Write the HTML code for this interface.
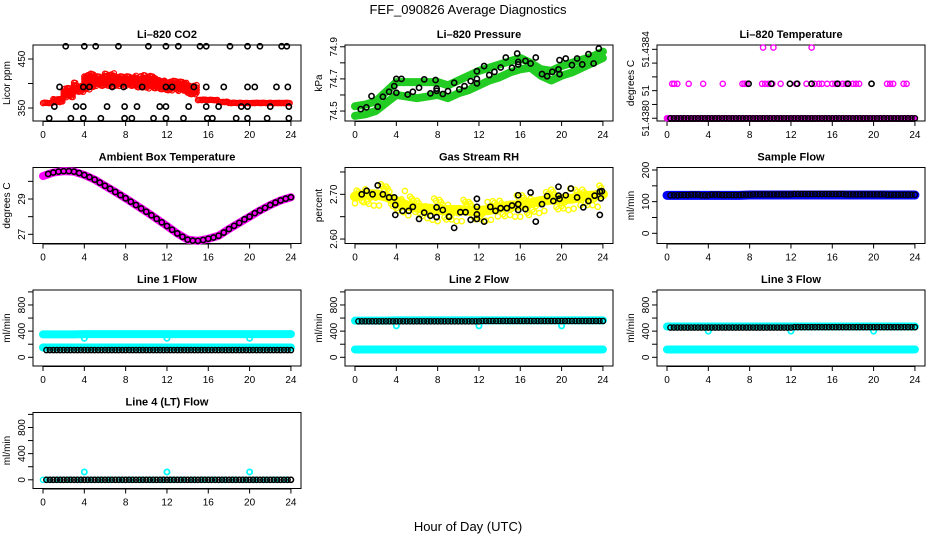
<!DOCTYPE html>
<html><head><meta charset="utf-8"><style>
html,body{margin:0;padding:0;background:#fff;}
svg{display:block;font-family:"Liberation Sans",Arial,sans-serif;}
</style></head><body>
<svg id="chart" width="936" height="540" viewBox="0 0 936 540" xmlns="http://www.w3.org/2000/svg">
<rect width="936" height="540" fill="#fff"/>
<text x="468" y="14" text-anchor="middle" font-size="13">FEF_090826  Average Diagnostics</text>
<text x="468" y="531" text-anchor="middle" font-size="13">Hour of Day (UTC)</text>
</svg>
<script>
// ---------- data ----------
const hours = [0,1,2,3,4,5,6,7,8,9,10,11,12,13,14,15,16,17,18,19,20,21,22,23,24];
const xTicks = [0,4,8,12,16,20,24];

const co2Lo = [360,362,372,383,388,395,395,395,395,392,390,388,386,385,378,366,366,362,360,360,360,360,360,360,360];
const co2Hi = [364,370,392,402,425,420,425,420,420,418,418,412,410,405,398,372,370,366,364,363,363,363,363,363,363];
const co2BlackHour = [2.2,4.0,5.1,7.3,10.2,11.9,13.1,15.2,15.8,18.1,19.8,21.0,23.1,23.6, 1.6,3.9,4.5,6.7,7.8,9.6,11.9,12.5,14.6,15.8,17.5,19.8,20.5,22.6,23.7, 1.1,3.2,3.9,6.2,7.9,9.1,11.3,11.9,14.1,15.8,17.0,19.2,19.8,22.0,23.8, 0.6,2.7,3.9,5.6,7.9,8.6,10.7,11.9,13.6,15.9,16.4,18.7,19.8,21.7,23.8];
const co2BlackVal = [476,476,476,476,476,476,476,476,476,476,476,476,476,476, 393,393,393,393,393,393,393,393,393,393,393,393,393,393,393, 353,353,353,353,353,353,353,353,353,353,353,353,353,353,353, 329,329,329,329,329,329,329,329,329,329,329,329,329,329,329];

const presUp = [74.53,74.54,74.56,74.62,74.68,74.68,74.68,74.68,74.68,74.66,74.69,74.72,74.75,74.77,74.79,74.81,74.83,74.80,74.76,74.75,74.78,74.80,74.82,74.84,74.87];
const presLo = [74.47,74.48,74.50,74.55,74.60,74.59,74.58,74.59,74.60,74.58,74.61,74.63,74.66,74.69,74.71,74.74,74.76,74.77,74.72,74.69,74.72,74.74,74.77,74.80,74.83];
const presBlackHour = [0.55,1.1,1.6,2.2,2.7,3.3,3.8,4.0,4.0,4.5,5.1,5.6,6.2,6.7,7.3,7.8,7.9,7.9,8.5,9.0,9.6,10.1,10.6,11.2,11.8,11.8,11.8,12.5,13,13.5,14.1,14.6,15.2,15.7,15.8,15.8,16.5,17,17.5,18.1,18.6,19.1,19.7,19.8,19.8,20.4,21,21.5,22,22.6,23.1,23.6];
const presBlackVal = [74.512,74.523,74.593,74.527,74.589,74.62,74.655,74.70,74.614,74.70,74.603,74.62,74.645,74.697,74.61,74.693,74.64,74.626,74.606,74.624,74.676,74.635,74.655,74.686,74.70,74.672,74.748,74.78,74.724,74.744,74.771,74.833,74.769,74.858,74.806,74.79,74.812,74.796,74.833,74.73,74.717,74.744,74.759,74.817,74.73,74.827,74.786,74.827,74.79,74.854,74.796,74.889];

const tempLow = [51.4380,51.4380,51.4380,51.4380,51.4380,51.4380,51.4380,51.4380,51.4380,51.4380,51.4380,51.4380,51.4380,51.4380,51.4380,51.4380,51.4380,51.4380,51.4380,51.4380,51.4380,51.4380,51.4380,51.4380,51.4380];
const tempMidHour = [0.5,0.7,1,2.1,3.5,5.4,7.3,7.5,7.7,9.2,9.5,9.8,10.2,11,12.5,13.5,14,14.3,14.7,15,15.5,16,16.3,16.6,17,17.3,17.6,18,18.3,18.6,21.3,21.6,21.9,22.9,23.2];
const tempMidVal = 51.4382;
const tempTopHour = [9.3,10.3,14];
const tempTopVal = 51.43841;
const tempBlackMidHour = [7.9,10.1,11.9,12.6,14.0,16.5,17.5,19.8];

const ambVals = [30.3,30.5,30.58,30.55,30.36,30.1,29.75,29.4,29.04,28.66,28.28,27.88,27.47,27.05,26.7,26.63,26.75,26.92,27.3,27.65,28.0,28.35,28.66,28.92,29.1];
const ambBlackHour = [0.5,1,1.5,2,2.5,3,3.5,4,4.5,5,5.5,6,6.5,7,7.5,8,8.5,9,9.5,10,10.5,11,11.5,12,12.5,13,13.5,14,14.5,15,15.5,16,16.5,17,17.5,18,18.5,19,19.5,20,20.5,21,21.5,22,22.5,23,23.5,24];
const ambBlackVal = [30.42,30.5,30.55,30.58,30.58,30.55,30.47,30.36,30.24,30.1,29.93,29.75,29.58,29.4,29.22,29.04,28.85,28.66,28.47,28.28,28.08,27.88,27.68,27.47,27.26,27.05,26.86,26.7,26.64,26.63,26.68,26.75,26.82,26.92,27.1,27.3,27.48,27.65,27.85,28.0,28.2,28.35,28.5,28.66,28.8,28.92,29.02,29.1];

const rhMid = [2.695,2.70,2.70,2.695,2.685,2.675,2.67,2.668,2.665,2.665,2.665,2.663,2.663,2.665,2.67,2.675,2.675,2.68,2.685,2.688,2.69,2.69,2.695,2.697,2.70];
const rhSpread = [0.015,0.025,0.025,0.025,0.025,0.022,0.022,0.025,0.025,0.025,0.025,0.022,0.022,0.022,0.022,0.025,0.025,0.022,0.022,0.025,0.025,0.022,0.022,0.025,0.02];
const rhBlackHour = [0.65,1.13,1.7,2.2,2.7,3.3,3.8,3.9,3.9,4.6,5.2,5.6,6.2,6.7,7.3,7.9,7.9,8.5,9.1,9.6,10.2,10.7,11.2,11.8,11.8,11.8,11.8,12.5,13.1,13.6,14.1,14.7,15.2,15.8,15.8,15.8,16.5,17,17.5,18.1,18.6,19.2,19.7,19.7,19.8,20.4,20.9,21.5,22.1,22.6,23.2,23.7,23.8,23.7,23.9];
const rhBlackVal = [2.70,2.708,2.70,2.72,2.70,2.693,2.693,2.676,2.654,2.663,2.663,2.672,2.645,2.659,2.652,2.671,2.649,2.665,2.65,2.625,2.66,2.66,2.643,2.69,2.672,2.655,2.645,2.639,2.672,2.663,2.669,2.669,2.675,2.678,2.698,2.665,2.667,2.704,2.639,2.678,2.696,2.685,2.717,2.697,2.69,2.698,2.713,2.693,2.671,2.685,2.697,2.706,2.691,2.654,2.707];

const sampleBlue = [120,120,120,120,120,120,120,120,121,121,121,121,121,121,121,121,121,121,121,121,121,121,121,121,121];
const sampleBlack = [120,121,122,120,122,121,121,122,123,123,123,123,124,124,124,124,124,123,123,123,123,122,122,122,122];

const dipHours = [4,12,20];
const l1Upper = [350,350,350,350,355,355,355,355,355,355,355,355,355,355,355,355,355,355,355,355,355,355,355,355,355];
const l1Lower = [150,150,150,150,150,150,150,150,150,150,150,150,150,150,150,150,150,150,150,150,150,150,150,150,150];
const l1Black = [110,110,110,110,110,110,110,110,110,110,110,110,110,110,110,110,110,110,110,110,110,110,110,110,110];
const l1Dip = [290,290,290];
const l2Upper = [560,560,560,560,565,565,565,565,565,565,565,565,565,565,565,565,565,565,565,565,565,565,565,565,565];
const l2Lower = [120,120,120,120,120,120,120,120,120,120,120,120,120,120,120,120,120,120,120,120,120,120,120,120,120];
const l2Black = [550,550,550,550,550,550,550,550,550,550,550,550,555,555,555,555,555,555,555,555,555,555,555,555,555];
const l2Dip = [480,480,480];
const l3Upper = [470,470,470,470,470,470,470,470,470,470,470,470,470,470,470,470,470,470,470,470,470,470,470,470,470];
const l3Lower = [120,120,120,120,120,120,120,120,120,120,120,120,120,120,120,120,120,120,120,120,120,120,120,120,120];
const l3Black = [455,455,455,455,455,455,455,455,455,455,455,455,460,460,460,460,460,460,460,460,460,460,460,460,460];
const l3Dip = [400,400,400];
const l4Cyan = [0,0,0,0,0,0,0,0,0,0,0,0,0,0,0,0,0,0,0,0,0,0,0,0,0];
const l4Black = [0,0,0,0,0,0,0,0,0,0,0,0,0,0,0,0,0,0,0,0,0,0,0,0,0];
const l4Spike = [120,120,120];

// ---------- drawing ----------
const NS = "http://www.w3.org/2000/svg";
const svg = document.getElementById('chart');

function mk(tag, attrs, parent) {
  const el = document.createElementNS(NS, tag);
  for (const k in attrs) el.setAttribute(k, attrs[k]);
  parent.appendChild(el);
  return el;
}

function panel(col, row, title, ylab, ymin, ymax, yticks, ylabels, key) {
  const x0 = 33 + 312 * col, x1 = 301 + 312 * col;
  const y0 = 45 + 122.5 * row, y1 = y0 + 76;
  const g = mk('g', {}, svg);
  
  
  const sx = h => x0 + 10 + h * 10.33;
  const sy = v => y1 - (v - ymin) / (ymax - ymin) * (y1 - y0);
  const t = mk('text', {x: (x0 + x1) / 2, y: y0 - 7, 'text-anchor': 'middle', 'font-size': 11, 'font-weight': 'bold'}, g);
  t.textContent = title;
  
  
  const yl = mk('text', {x: 0, y: 0, 'text-anchor': 'middle', 'font-size': 10, transform: `translate(${x0 - 23},${(y0 + y1) / 2}) rotate(-90)`}, g);
  yl.textContent = ylab;
  
  
  const ax = mk('g', {stroke: '#000', 'stroke-width': 1}, g);
  
  
  xTicks.forEach(h => {
    mk('line', {x1: sx(h), x2: sx(h), y1: y1, y2: y1 + 5}, ax);
    const tl = mk('text', {x: sx(h), y: y1 + 17, 'text-anchor': 'middle', 'font-size': 10, stroke: 'none', fill: '#000'}, g);
    tl.textContent = h;
    
    
  });
  mk('line', {x1: sx(0), x2: sx(24), y1: y1 + 0.5, y2: y1 + 0.5}, ax);
  yticks.forEach((v, i) => {
    mk('line', {x1: x0 - 5, x2: x0, y1: sy(v), y2: sy(v)}, ax);
    if (ylabels[i] !== '') {
      const tl = mk('text', {x: 0, y: 0, 'text-anchor': 'middle', 'font-size': 10, transform: `translate(${x0 - 8},${sy(v)}) rotate(-90)`}, g);
      tl.textContent = ylabels[i];
      
      
    }
  });
  const box = mk('rect', {x: x0, y: y0, width: x1 - x0, height: y1 - y0, fill: 'none', stroke: '#000', 'stroke-width': 1}, g);
  
  
  const marks = mk('g', {}, g);
  
  
  return {sx, sy, g: marks};
}

function pt(p, h, v, color, name, sw) {
  const c = mk('circle', {cx: p.sx(h), cy: p.sy(v), r: 2.6, fill: 'none', stroke: color, 'stroke-width': sw || 1.4}, p.g);
  
  
}

function band(p, xs, vals, color, w, name) {
  const pts = xs.map((h, i) => p.sx(h) + ',' + p.sy(vals[i])).join(' ');
  const l = mk('polyline', {points: pts, fill: 'none', stroke: color, 'stroke-width': w, 'stroke-linejoin': 'round', 'stroke-linecap': 'round'}, p.g);
  
  
}

function stepPts(p, vals, color, name, start, per) {
  for (let i = 0; i < 24; i++) for (let k = 0; k < per; k++) {
    const h = i + (start + k) / per;
    if (h > 24) continue;
    pt(p, h, vals[i], color, name);
  }
}

const jitter = [-1, 0.45, -0.3, 0.9, -0.65, 0.15, 0.7, -0.85];

// CO2
const pC = panel(0, 0, 'Li–820 CO2', 'Licor ppm', 323.5, 478.6, [350, 400, 450], ['350', '', '450'], 'co2');
for (let i = 0; i < 24; i++) for (let k = 0; k < 8; k++) {
  const lo = co2Lo[i], hi = co2Hi[i];
  const span = hi - lo;
  const f = jitter[(i + k * 3) % jitter.length];
  const top = hi - span * 0.12 * (1 - f);
  const bot = lo + span * 0.1 * (1 + f);
  for (let v = bot; v <= top; v += 5) pt(pC, i + k / 8, v, '#ff0000', 'co2-red-point', 1.2);
}
co2BlackHour.forEach((h, i) => pt(pC, h, co2BlackVal[i], '#000', 'co2-black-point', 1.6));

// Pressure
const pP = panel(1, 0, 'Li–820 Pressure', 'kPa', 74.438, 74.911, [74.5, 74.6, 74.7, 74.8, 74.9], ['74.5', '', '74.7', '', '74.9'], 'pressure');
band(pP, hours, presUp, '#22cc22', 8, 'pressure-upper-band');
band(pP, hours, presLo, '#22cc22', 8, 'pressure-lower-band');
presBlackHour.forEach((h, i) => pt(pP, h, presBlackVal[i], '#000', 'pressure-black-point', 1.6));

// Temperature
const pT = panel(2, 0, 'Li–820 Temperature', 'degrees C', 51.437984, 51.438425, [51.4380, 51.43808, 51.43816, 51.43824, 51.43832, 51.4384], ['51.4380', '', '51', '', '', '51.4384'], 'temperature');
stepPts(pT, tempLow, '#ff00ff', 'temperature-magenta-point', 0, 8);
tempMidHour.forEach(h => pt(pT, h, tempMidVal, '#ff00ff', 'temperature-magenta-point'));
tempTopHour.forEach(h => pt(pT, h, tempTopVal, '#ff00ff', 'temperature-magenta-point'));
stepPts(pT, tempLow, '#000', 'temperature-black-point', 1, 3);
tempBlackMidHour.forEach(h => pt(pT, h, tempMidVal, '#000', 'temperature-black-point', 1.6));

// Ambient
const pA = panel(0, 1, 'Ambient Box Temperature', 'degrees C', 26.48, 30.785, [27, 28, 29, 30], ['27', '', '29', ''], 'ambient');
band(pA, hours, ambVals, '#ff00ff', 8, 'ambient-magenta-band');
ambBlackHour.forEach((h, i) => pt(pA, h, ambBlackVal[i], '#000', 'ambient-black-point', 1.6));

// RH
const pR = panel(1, 1, 'Gas Stream RH', 'percent', 2.590, 2.760, [2.60, 2.65, 2.70, 2.75], ['2.60', '', '2.70', ''], 'rh');
band(pR, hours, rhMid, '#ffff00', 10, 'rh-yellow-band');
for (let i = 0; i < 24; i++) for (let k = 0; k < 6; k++) {
  const f = jitter[(i + k * 3) % jitter.length];
  pt(pR, i + k / 6, rhMid[i] + f * rhSpread[i], '#ffff00', 'rh-yellow-point');
}
rhBlackHour.forEach((h, i) => pt(pR, h, rhBlackVal[i], '#000', 'rh-black-point', 1.6));

// Sample flow
const pS = panel(2, 1, 'Sample Flow', 'ml/min', -32.2, 207.9, [0, 50, 100, 150, 200], ['0', '', '100', '', '200'], 'sample-flow');
band(pS, hours, sampleBlue, '#0000ff', 9, 'sample-flow-blue-band');
stepPts(pS, sampleBlack, '#000', 'sample-flow-black-point', 1, 3);

// Line flows
const flowTicks = [0, 200, 400, 600, 800, 1000];
const flowLabels = ['0', '', '400', '', '800', ''];
function flowPanel(col, row, title, key, up, lo, black, dip) {
  const p = panel(col, row, title, 'ml/min', -133, 1029, flowTicks, flowLabels, key);
  if (up) band(p, hours, up, '#00ffff', 8, key + '-cyan-upper-band');
  if (lo) band(p, hours, lo, '#00ffff', 8, key + '-cyan-lower-band');
  dipHours.forEach((h, i) => pt(p, h, dip[i], '#00ffff', key + '-cyan-outlier', 1.8));
  stepPts(p, black, '#000', key + '-black-point', 1, 3);
  return p;
}
flowPanel(0, 2, 'Line 1 Flow', 'line1-flow', l1Upper, l1Lower, l1Black, l1Dip);
flowPanel(1, 2, 'Line 2 Flow', 'line2-flow', l2Upper, l2Lower, l2Black, l2Dip);
flowPanel(2, 2, 'Line 3 Flow', 'line3-flow', l3Upper, l3Lower, l3Black, l3Dip);
const p4 = flowPanel(0, 3, 'Line 4 (LT) Flow', 'line4-flow', null, null, l4Black, l4Spike);
stepPts(p4, l4Cyan, '#00ffff', 'line4-flow-cyan-point', 0, 2);
stepPts(p4, l4Black, '#000', 'line4-flow-black-point', 1, 3);
</script>
</body></html>
